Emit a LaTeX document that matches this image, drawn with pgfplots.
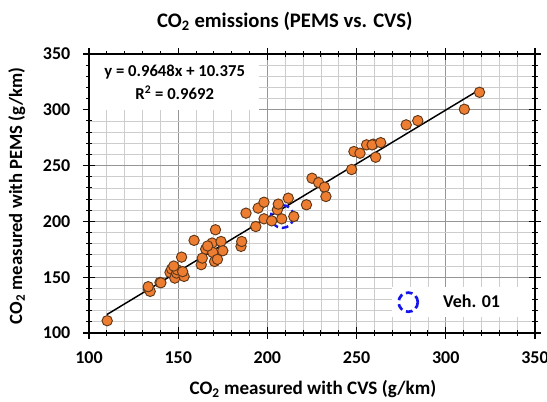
\documentclass[border=0pt]{standalone}
\usepackage{fontspec}
\setmainfont{Carlito}
\usepackage{pgfplots}
\pgfplotsset{compat=1.18}

\definecolor{ptfill}{RGB}{237,125,49}
\definecolor{ptedge}{RGB}{95,55,25}
\definecolor{majgrid}{RGB}{150,150,150}
\definecolor{mingrid}{RGB}{205,205,205}
\definecolor{vehblue}{RGB}{20,20,235}

\begin{document}
\begin{tikzpicture}
\path[use as bounding box] (-66.75pt,-51pt) rectangle (343.5pt,249.75pt);
\begin{axis}[
    at={(0,0)}, anchor=south west,
    scale only axis,
    width=334.5pt, height=209.25pt,
    xmin=100, xmax=350, ymin=100, ymax=350,
    xtick={100,150,...,350}, ytick={100,150,...,350},
    minor tick num=4,
    grid=both,
    major grid style={majgrid, line width=0.7pt},
    minor grid style={mingrid, line width=0.6pt},
    axis line style={black, line width=1.1pt},
    tick align=center,
    major tick length=9pt,
    minor tick length=4pt,
    tick style={black, line width=0.8pt},
    /pgf/number format/assume math mode=true,
    ticklabel style={font=\bfseries\fontsize{13.5}{15}\selectfont},
    xticklabel style={yshift=-6pt},
    yticklabel style={xshift=-6pt},
    title={CO\textsubscript{2} emissions (PEMS vs. CVS)},
    title style={at={(axis description cs:0.439,1.088)}, anchor=center,
        font=\bfseries\fontsize{15.5}{17}\selectfont},
    xlabel={CO\textsubscript{2} measured with CVS (g/km)},
    xlabel style={at={(axis description cs:0.502,-0.202)}, anchor=center,
        font=\bfseries\fontsize{14.3}{16}\selectfont},
    ylabel={CO\textsubscript{2} measured with PEMS (g/km)},
    ylabel style={at={(axis description cs:-0.162,0.491)}, anchor=center,
        font=\bfseries\fontsize{14}{16}\selectfont},
    legend style={at={(rel axis cs:0.994,0.056)}, anchor=south east,
        draw=none, fill=white, inner xsep=4pt, inner ysep=3pt,
        font=\bfseries\fontsize{13.5}{15}\selectfont,
        nodes={inner xsep=8pt}},
    legend image code/.code={
        \draw[vehblue, line width=2pt, dash pattern=on 5pt off 3pt]
            (0.35cm,0cm) circle (7.2pt);},
    legend cell align=left,
]

% Veh. 01 highlight
\addplot[only marks, mark=o, mark size=8.6pt,
    mark options={draw=vehblue, line width=1.8pt, dash pattern=on 5pt off 3pt}]
    coordinates {(208.3,204.4)};
\addlegendentry{\kern10pt Veh. 01\kern12pt}

% measurements
\addplot[only marks, mark=*, mark size=3.9pt,
    mark options={fill=ptfill, draw=ptedge, line width=0.7pt}, forget plot]
    coordinates {
    (110.2,111.0) (133.3,139.4) (134.3,137.3) (133.2,141.5) (139.8,145.3)
    (140.3,145.0) (145.4,154.3) (146.3,157.3) (148.1,149.2) (149.1,153.7)
    (149.4,156.7) (151.9,168.0) (153.3,150.7) (152.5,155.0) (147.5,160.0)
    (158.9,183.0) (162.9,161.2) (163.5,167.1) (165.4,175.2) (169.0,180.6)
    (169.4,172.2) (170.4,164.1) (170.9,192.5) (172.0,166.0) (174.0,182.0)
    (175.0,173.7) (166.5,178.0) (185.2,177.6) (185.6,182.0) (188.0,207.4)
    (193.5,195.4) (194.8,211.9) (198.1,217.2) (198.1,202.3) (202.4,200.5)
    (205.6,210.4) (206.1,215.5) (208.0,202.3) (211.7,220.8) (214.8,204.4)
    (221.9,214.9) (225.0,238.7) (228.7,234.8) (232.0,230.7) (232.8,222.3)
    (247.2,246.5) (248.5,262.6) (251.9,261.1) (255.6,268.6) (259.3,269.2)
    (258.7,268.6) (260.7,257.5) (263.5,270.6) (277.8,286.5) (284.3,290.3)
    (310.4,300.5) (318.9,315.7)
    };

% trendline y = 0.9648x + 10.375
\addplot[black, line width=1.1pt, forget plot]
    coordinates {(110,116.5) (320,319.1)};

\node[fill=white, anchor=north west, minimum width=127pt, minimum height=41pt,
    inner sep=0pt, align=center, font=\bfseries\fontsize{12.5}{17}\selectfont]
    at ([xshift=0.6pt,yshift=-0.6pt]rel axis cs:0,1)
    {y = 0.9648x + 10.375\\R\textsuperscript{2} = 0.9692};
\end{axis}
\end{tikzpicture}
\end{document}
